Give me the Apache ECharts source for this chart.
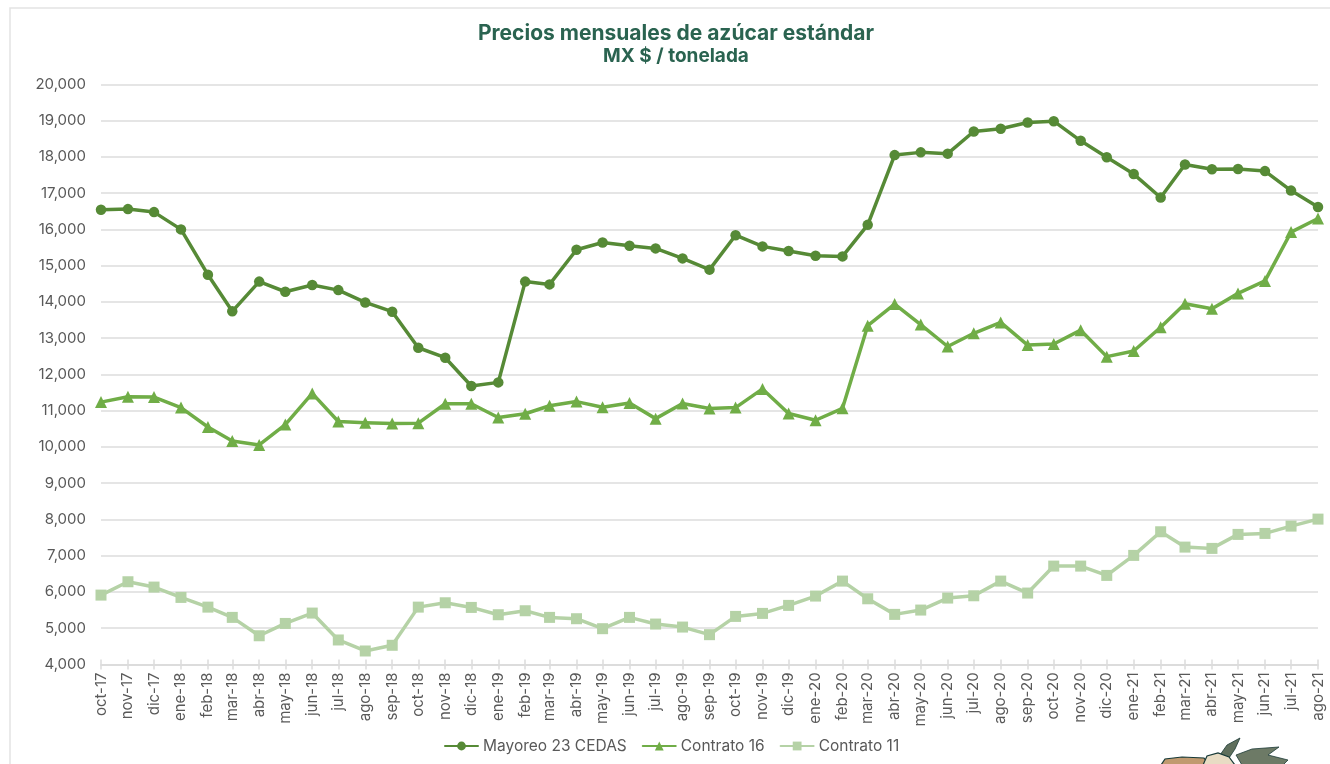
<!DOCTYPE html>
<html>
<head>
<meta charset="utf-8">
<title>Precios mensuales de azúcar estándar</title>
<script src="https://cdn.jsdelivr.net/npm/echarts@6/dist/echarts.min.js"></script>
<style>
  html, body { margin: 0; padding: 0; background: #fff; overflow: hidden; }
  #chart { width: 1330px; height: 764px; }
</style>
</head>
<body>
<div id="chart"></div>
<script>
const monthLabels = [
  "oct-17", "nov-17", "dic-17", "ene-18", "feb-18", "mar-18", "abr-18", "may-18", "jun-18", "jul-18", "ago-18", "sep-18",
  "oct-18", "nov-18", "dic-18", "ene-19", "feb-19", "mar-19", "abr-19", "may-19", "jun-19", "jul-19", "ago-19", "sep-19",
  "oct-19", "nov-19", "dic-19", "ene-20", "feb-20", "mar-20", "abr-20", "may-20", "jun-20", "jul-20", "ago-20", "sep-20",
  "oct-20", "nov-20", "dic-20", "ene-21", "feb-21", "mar-21", "abr-21", "may-21", "jun-21", "jul-21", "ago-21"
];
const mayoreo = [
  16540, 16560, 16477, 16000, 14750, 13740, 14560, 14280, 14465, 14325, 13985, 13730,
  12735, 12460, 11680, 11780, 14560, 14483, 15440, 15640, 15548, 15476, 15200, 14890,
  15840, 15531, 15402, 15272, 15255, 16125, 18050, 18125, 18090, 18700, 18776, 18950,
  18985, 18444, 17990, 17526, 16880, 17790, 17660, 17664, 17608, 17070, 16620
];
const contrato16 = [
  11236, 11385, 11375, 11085, 10550, 10165, 10055, 10615, 11475, 10700, 10665, 10645,
  10655, 11190, 11190, 10810, 10915, 11135, 11250, 11095, 11210, 10780, 11195, 11060,
  11085, 11600, 10920, 10735, 11065, 13345, 13940, 13375, 12770, 13135, 13435, 12810,
  12840, 13220, 12490, 12645, 13300, 13950, 13810, 14235, 14580, 15925, 16300
];
const contrato11 = [
  5912, 6280, 6133, 5848, 5580, 5297, 4790, 5130, 5416, 4674, 4370, 4527,
  5580, 5700, 5572, 5370, 5480, 5297, 5260, 4985, 5297, 5113, 5030, 4820,
  5324, 5407, 5628, 5885, 6298, 5810, 5380, 5499, 5830, 5893, 6298, 5968,
  6712, 6712, 6455, 7007, 7659, 7236, 7200, 7586, 7613, 7815, 8008
];
const monthNames = ["ene", "feb", "mar", "abr", "may", "jun", "jul", "ago", "sep", "oct", "nov", "dic"];

// the original axis is a date axis, so months are spaced by their real length (in days here)
const monthDays = monthLabels.map(function (label) {
  let parts = label.split("-");
  return Date.UTC(2000 + Number(parts[1]), monthNames.indexOf(parts[0]), 1) / 86400000;
});
const labelByDay = {};
monthDays.forEach(function (d, i) {
  labelByDay[d] = monthLabels[i];
});

function pairs(values) {
  return values.map(function (v, i) {
    return [monthDays[i], v];
  });
}

function lineSeries(name, values, color, symbol, size) {
  return {
    name: name,
    type: "line",
    data: pairs(values),
    symbol: symbol,
    symbolSize: size,
    showSymbol: true,
    showAllSymbol: true,
    clip: false,
    lineStyle: { color: color, width: 3.5, cap: "round", join: "round" },
    itemStyle: { color: color }
  };
}

const fontName = "Inter";
const tickColor = "#dcdcdc";

function dayAxis(inside) {
  return {
    type: "value",
    position: "bottom",
    min: monthDays[0],
    max: monthDays[monthDays.length - 1],
    axisLine: { show: true, onZero: false, lineStyle: { color: tickColor, width: 1.5 } },
    axisTick: {
      show: true,
      inside: inside,
      length: 5,
      customValues: monthDays,
      lineStyle: { color: tickColor, width: 1.5 }
    },
    splitLine: { show: false },
    axisLabel: {
      show: !inside,
      rotate: 90,
      margin: 8,
      customValues: monthDays,
      color: "#595959",
      fontFamily: fontName,
      fontSize: 15,
      formatter: function (value) {
        return labelByDay[value];
      }
    }
  };
}

let myChart = echarts.init(document.getElementById("chart"));
let option = {
  animation: false,
  backgroundColor: "#fff",
  title: {
    text: "Precios mensuales de azúcar estándar",
    subtext: "MX $ / tonelada",
    left: 671,
    top: 18,
    textAlign: "center",
    itemGap: 3,
    textStyle: { color: "#2a6350", fontFamily: fontName, fontWeight: 700, fontSize: 21 },
    subtextStyle: { color: "#2a6350", fontFamily: fontName, fontWeight: 700, fontSize: 19 }
  },
  legend: {
    left: 439,
    top: 733,
    itemWidth: 33,
    itemHeight: 11,
    itemGap: 15,
    textStyle: { color: "#595959", fontFamily: fontName, fontSize: 15.5 }
  },
  grid: { left: 101, right: 12, top: 84.4, height: 580 },
  xAxis: [dayAxis(false), dayAxis(true)],
  yAxis: {
    type: "value",
    min: 4000,
    max: 20000,
    interval: 1000,
    axisLine: { show: false },
    axisTick: { show: false },
    splitLine: { show: true, lineStyle: { color: tickColor, width: 1.5 } },
    axisLabel: {
      margin: 15,
      color: "#595959",
      fontFamily: fontName,
      fontSize: 15,
      formatter: function (v) {
        return v.toLocaleString("en-US");
      }
    }
  },
  series: [
    lineSeries("Mayoreo 23 CEDAS", mayoreo, "#568a36", "circle", 10.5),
    lineSeries("Contrato 16", contrato16, "#70ad47", "triangle", 12),
    lineSeries("Contrato 11", contrato11, "#b5d2a6", "rect", 11)
  ],
  graphic: [
    // frame of the slide, runs off the right and bottom edges
    {
      type: "rect",
      silent: true,
      shape: { x: 10, y: 8, width: 1400, height: 800 },
      style: { fill: "none", stroke: "#e3e3e3", lineWidth: 1.5 }
    },
    // logo cut off by the bottom edge
    {
      type: "group",
      silent: true,
      children: [
        { type: "polygon", shape: { points: [[1220, 755], [1227, 745], [1240, 738], [1235, 749], [1229, 758]] }, style: { fill: "#5f6f5c", stroke: "#1c3a36", lineWidth: 0.8 } },
        { type: "polygon", shape: { points: [[1236, 755], [1252, 749], [1279, 747], [1268, 755], [1288, 760], [1283, 765], [1242, 765]] }, style: { fill: "#6d7a66", stroke: "#1c3a36", lineWidth: 0.8 } },
        { type: "polygon", shape: { points: [[1161, 765], [1165, 759], [1182, 757], [1204, 758], [1210, 765]] }, style: { fill: "#c09a70", stroke: "#173a38", lineWidth: 1.2 } },
        { type: "polygon", shape: { points: [[1203, 765], [1207, 756], [1218, 753], [1229, 757], [1235, 765]] }, style: { fill: "#e8dcc4", stroke: "#173a38", lineWidth: 1.2 } }
      ]
    }
  ]
};
myChart.setOption(option);
</script>
</body>
</html>
